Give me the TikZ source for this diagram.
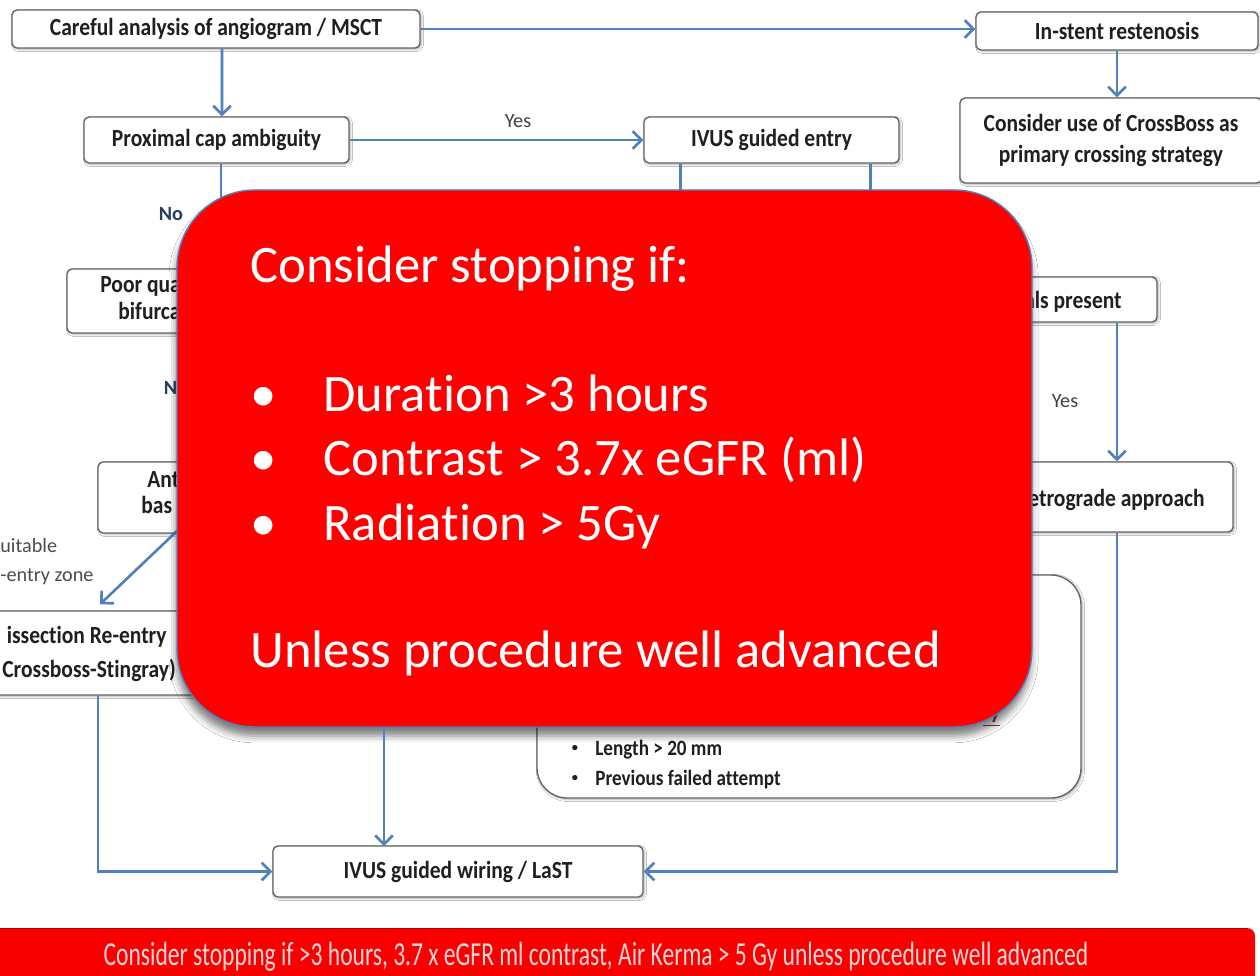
\documentclass[tikz,border=0pt]{standalone}
\usepackage{fontspec}
\setmainfont{Carlito}[Ligatures=NoCommon]
\usepackage{graphicx}
\usetikzlibrary{arrows.meta,calc,shadows.blur}
\definecolor{lineblue}{HTML}{4F81BD}
\definecolor{boxgray}{HTML}{666666}
\definecolor{navy}{HTML}{243F60}
\definecolor{alarm}{HTML}{FF0000}
\definecolor{bannerred}{HTML}{F80000}
\definecolor{bannerline}{HTML}{B00000}
\definecolor{bannertext}{HTML}{FFD6D6}
\definecolor{ulred}{HTML}{7B4040}
\newcommand\vs[1]{\scalebox{0.98}[1.12]{#1}}
\tikzset{
  flowbox/.style 2 args={draw=boxgray, line width=0.8pt, rounded corners=2.8pt, fill=white,
    minimum width=#1*0.02cm, minimum height=#2*0.02cm, inner sep=0pt,
    font=\fontsize{12.5}{15.5}\selectfont\bfseries, text=black!88, align=center,
    blur shadow={shadow xshift=0.8pt, shadow yshift=-0.8pt, shadow blur radius=1.2pt, shadow opacity=30}},
  conn/.style={draw=lineblue, line width=1.5pt},
  arr/.style={conn, -{Straight Barb[length=5pt,width=10pt,line width=1.5pt]}},
  lbl/.style={font=\fontsize{11.5}{13}\selectfont, text=black!75, inner sep=0pt},
  nolbl/.style={font=\fontsize{11.5}{13}\selectfont\bfseries, text=navy, inner sep=0pt},
  frag/.style={font=\fontsize{12.5}{15}\selectfont\bfseries, text=black!88, inner sep=0pt},
  bigtext/.style={font=\fontsize{30}{36}\selectfont, text=white, inner sep=0pt, anchor=base west},
  itemtext/.style={font=\fontsize{11.1}{13}\selectfont\bfseries, text=black!88, inner sep=0pt, anchor=west},
  itembullet/.style={font=\fontsize{7}{8}\selectfont\bfseries, text=black!88, inner sep=0pt},
}
\begin{document}
\begin{tikzpicture}[x=0.02cm,y=-0.02cm]
\useasboundingbox (0,0) rectangle (1260,976);
\fill[white] (0,0) rectangle (1260,976);
\begin{scope}
\clip (0,0) rectangle (1260,976);

% ---------- boxes ----------
\node[flowbox={408}{38}] (careful) at (216,29) {\vs{Careful analysis of angiogram / MSCT}};
\node[flowbox={282}{38}] (instent) at (1117,31) {\vs{In-stent restenosis}};
\node[flowbox={265}{46}] (proximal) at (216.5,140) {\vs{Proximal cap ambiguity}};
\node[flowbox={255}{46}] (ivusentry) at (771.5,140) {\vs{IVUS guided entry}};
\node[flowbox={302}{85}, font=\fontsize{12.5}{18}\selectfont\bfseries] (crossboss) at (1111,140.5)
  {\vs{Consider use of CrossBoss as}\\\vs{primary crossing strategy}};
\node[flowbox={308}{64}] (poorq) at (221,301) {};
\node[frag, anchor=west] (poorqa) at (100,286) {\vs{Poor qua}};
\node[frag, anchor=west] (poorqb) at (118,311) {\vs{bifurca}};
\node[flowbox={246}{71}] (antegrade) at (221,497.5) {};
\node[frag, anchor=west] (antega) at (147,480) {\vs{Ant}};
\node[frag, anchor=west] (antegb) at (141,505) {\vs{bas}};
\node[flowbox={250}{84}] (dissection) at (105,653) {};
\node[frag, anchor=east] (dissa) at (167,637) {\vs{issection Re-entry}};
\node[frag, anchor=west] (dissb) at (2,670) {\vs{Crossboss-Stingray)}};
\node[flowbox={370}{51}] (ivuswiring) at (458,871.5) {\vs{IVUS guided wiring / LaST}};
\node[flowbox={287}{45}] (collaterals) at (1013.5,299.5) {};
\node[frag, anchor=east] (collt) at (1122,302) {\vs{als present}};
\node[flowbox={353}{70}] (retrograde) at (1056.5,497) {};
\node[frag, anchor=east] (retrot) at (1205,500) {\vs{etrograde approach}};
\node[draw=boxgray, line width=0.8pt, rounded corners=0.6cm, fill=white,
  minimum width=544*0.02cm, minimum height=223*0.02cm,
  blur shadow={shadow xshift=0.8pt, shadow yshift=-0.8pt, shadow blur radius=1.2pt, shadow opacity=30}]
  (criteria) at (809,686.5) {};
\node[itembullet] (b1) at (575,748) {•};
\node[itemtext] (i1) at (595,750) {\vs{Length > 20 mm}};
\node[itembullet] (b2) at (575,778) {•};
\node[itemtext] (i2) at (595,780) {\vs{Previous failed attempt}};
\node[font=\fontsize{11.1}{13}\selectfont\bfseries, text=ulred, inner sep=0pt, anchor=east] (ulfrag) at (1000,718) {\underline{ry}};

% ---------- labels ----------
\node[lbl] (yes1) at (518,121) {Yes};
\node[lbl] (yes2) at (1065,401) {Yes};
\node[nolbl] (no1) at (171,214) {No};
\node[nolbl] (no2) at (176,388) {No};
\node[lbl, anchor=west, text=black!70] (suit1) at (0,546) {uitable};
\node[lbl, anchor=west, text=black!70] (suit2) at (0,577) {-entry zone};

% ---------- connectors ----------
\coordinate (rx) at (1117,0);
\coordinate (wtop) at (384,846);
\draw[arr] (careful.east) -- (careful.east -| instent.west);
\draw[arr] ($(careful.south)+(6,0)$) -- ($(proximal.north)+(5.5,0)$);
\draw[arr] (proximal.east) -- (ivusentry.west);
\draw[arr] (instent.south) -- (instent.south |- crossboss.north);
\draw[conn] ($(ivusentry.south west)+(37,0)$) -- ++(0,150);
\draw[conn] ($(ivusentry.south west)+(227,0)$) -- ++(0,150);
\draw[arr] (poorq.north |- proximal.south) -- (poorq.north);
\draw[arr] (poorq.south) -- (antegrade.north);
\draw[arr] ($(antegrade.south west)+(80,-3)$) -- ($(dissection.north)+(-5,-6)$);
\draw[arr] ($(dissection.south)+(-7,0)$) |- (ivuswiring.west);
\draw[arr] (collaterals.south -| rx) -- (retrograde.north -| rx);
\draw[arr] (retrograde.south -| rx) |- (ivuswiring.east);

% ---------- overlay ----------
\node[draw=lineblue, line width=0.8pt, fill=alarm, rounded corners=1.56cm,
  minimum width=855*0.02cm, minimum height=537*0.02cm, inner sep=0pt,
  blur shadow={shadow xshift=-0.5pt, shadow yshift=-5pt, shadow blur radius=4pt, shadow opacity=50}]
  (redbox) at (604.5,458.5) {};
\draw[arr] (redbox.south -| wtop) -- (wtop);
\node[bigtext] (t0) at (250,283) {Consider stopping if:};
\node[bigtext] (bu1) at (250,411) {•};
\node[bigtext] (t1) at (323,411) {Duration >3 hours};
\node[bigtext] (bu2) at (250,475) {•};
\node[bigtext] (t2) at (323,475) {Contrast > 3.7x eGFR (ml)};
\node[bigtext] (bu3) at (250,540) {•};
\node[bigtext] (t3) at (323,540) {Radiation > 5Gy};
\node[bigtext] (t4) at (250,667) {Unless procedure well advanced};

% ---------- bottom banner ----------
\fill[bannerred, rounded corners=0.16cm] (-10,928) -- (1255,928) -- (1255,1000) -- (-10,1000) -- cycle;
\draw[bannerline, line width=1pt] (-10,928.5) -- (1248,928.5);
\node[font=\fontsize{13.4}{16}\selectfont, text=bannertext, inner sep=0pt, anchor=base] (bannertxt) at (596,965)
  {\scalebox{1}[1.43]{Consider stopping if >3 hours, 3.7 x eGFR ml contrast, Air Kerma > 5 Gy unless procedure well advanced}};
\end{scope}
\end{tikzpicture}
\end{document}
